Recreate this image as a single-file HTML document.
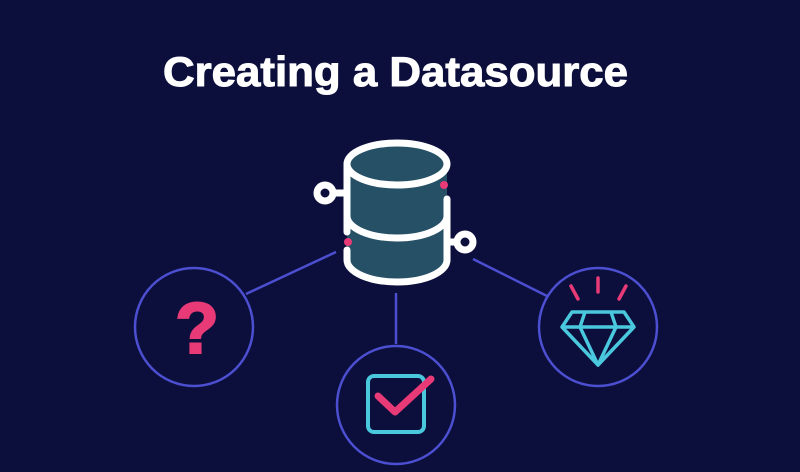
<!DOCTYPE html>
<html><head><style>
html,body{margin:0;padding:0;background:#0c0e3c;}
svg{display:block;}
</style></head><body>
<svg width="800" height="472" viewBox="0 0 800 472" xmlns="http://www.w3.org/2000/svg">
<rect width="800" height="472" fill="#0c0e3c"/>
<text x="163" y="86" font-family="Liberation Sans, sans-serif" font-weight="bold" font-size="42" fill="#fff" stroke="#fff" stroke-width="1" textLength="465" lengthAdjust="spacingAndGlyphs">Creating a Datasource</text>
<g stroke="#4b4fd0" stroke-width="2.5" fill="none">
<line x1="336" y1="252" x2="246" y2="294"/>
<line x1="396" y1="293" x2="396" y2="344"/>
<line x1="473" y1="259" x2="547" y2="296"/>
<circle cx="194" cy="327" r="59"/>
<circle cx="396" cy="405" r="59"/>
<circle cx="598" cy="327" r="59"/>
</g>
<path d="M347 164 L347 260 A50 22 0 0 0 447 260 L447 164 Z" fill="#265066"/>
<ellipse cx="397" cy="164" rx="50" ry="21" fill="#265066"/>
<g stroke="#fff" stroke-width="7" fill="none" stroke-linecap="round">
<ellipse cx="397" cy="164" rx="50" ry="21"/>
<path d="M347 164 L347 232"/>
<path d="M447 199 L447 260"/>
<path d="M347 250 L347 260 A50 22 0 0 0 447 260"/>
<path d="M347 216 A50 22 0 0 0 447 216"/>
<line x1="334" y1="193" x2="347" y2="193"/>
<line x1="447" y1="242" x2="456" y2="242"/>
<circle cx="325" cy="193" r="8"/>
<circle cx="465" cy="242" r="8"/>
</g>
<circle cx="444" cy="185" r="4" fill="#e83a76"/>
<circle cx="348" cy="242" r="4" fill="#e83a76"/>
<text x="197" y="353" text-anchor="middle" font-family="Liberation Sans, sans-serif" font-weight="bold" font-size="72" fill="#e83a76" stroke="#e83a76" stroke-width="2">?</text>
<rect x="368" y="376" width="56" height="56" rx="6" fill="none" stroke="#4ac8dd" stroke-width="4"/>
<path d="M378 396 L395 412 L431 379" fill="none" stroke="#e83a76" stroke-width="7" stroke-linecap="round" stroke-linejoin="round"/>
<g fill="none" stroke="#4ac8dd" stroke-width="3.5" stroke-linejoin="round">
<path d="M572 312 L624 312 L634 327 L598 365 L562 327 Z"/>
<line x1="562" y1="327" x2="634" y2="327"/>
<path d="M585 312 L580 327 L598 365 L616 327 L611 312"/>
</g>
<g stroke="#e83a76" stroke-width="3.5" stroke-linecap="round">
<line x1="571" y1="286" x2="578" y2="299"/>
<line x1="598" y1="278" x2="598" y2="292"/>
<line x1="626" y1="286" x2="619" y2="299"/>
</g>
</svg>
</body></html>
